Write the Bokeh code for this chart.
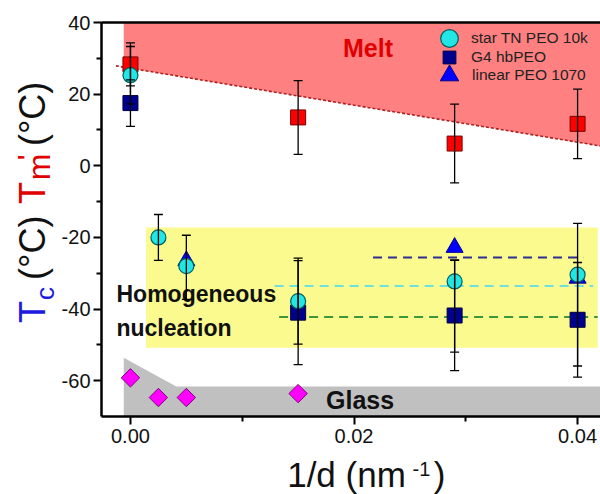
import math
from bokeh.plotting import figure
from bokeh.layouts import row, column
from bokeh.models import (ColumnDataSource, Whisker, TeeHead, Label, Legend, LegendItem,
                          LinearAxis, FixedTicker, Range1d, NumeralTickFormatter)
from bokeh.embed import file_html
from bokeh.resources import INLINE

FONT = "Liberation Sans"

# ---------------- data ----------------
# Tm' (melting) – red squares
melt_x = [0.0, 0.015, 0.029, 0.040]
melt_y = [28.3, 13.5, 6.2, 11.7]
melt_err = [6.0, 10.3, 11.0, 9.7]

# Tc star TN PEO 10k – cyan circles
star_x = [0.0, 0.0025, 0.005, 0.015, 0.029, 0.040]
star_y = [25.3, -20.0, -28.0, -37.8, -32.3, -30.4]
star_err_up = [8.0, 6.4, 8.6, 12.0, 6.0, 14.3]
star_err_dn = [8.0, 6.4, 9.3, 12.0, 19.7, 25.5]

# Tc G4 hbPEO – navy squares
g4_x = [0.0, 0.015, 0.029, 0.040]
g4_y = [17.5, -41.0, -41.8, -43.0]
g4_err = [6.5, 14.5, 15.4, 16.0]

# Tc linear PEO 1070 – blue triangles
lin_x = [0.005, 0.029, 0.040]
lin_y = [-26.5, -22.8, -31.4]

# Glass transition – magenta diamonds
glass_x = [0.0, 0.0025, 0.005, 0.015]
glass_y = [-59.2, -64.7, -64.7, -63.6]

# shaded regions
melt_region_x = [-0.0006, 0.0425, 0.0425, -0.0006]
melt_region_y = [40.0, 40.0, 5.3, 27.5]
melt_line_x = [-0.0013, 0.0425]
melt_line_y = [27.9, 5.3]
glass_region_x = [-0.0006, 0.0041, 0.0425, 0.0425, -0.0006]
glass_region_y = [-53.6, -61.6, -61.6, -70.0, -70.0]
homo_left, homo_right = [0.0014], [0.0418]
homo_bottom, homo_top = [-50.8], [-17.2]

# average Tc lines
lin_avg_x, lin_avg_y = [0.0217, 0.0405], [-25.6, -25.6]
star_avg_x, star_avg_y = [0.0129, 0.0414], [-33.6, -33.6]
g4_avg_x, g4_avg_y = [0.0133, 0.0418], [-42.2, -42.2]

x_ticks = [0.0, 0.02, 0.04]
x_minor = [0.01, 0.03]
y_ticks = [-60, -40, -20, 0, 20, 40]
y_minor = [-50, -30, -10, 10, 30]

BLUE, RED, BLK = "#1C1CE0", "#E00000", "#111111"

# ---------------- main figure ----------------
p = figure(width=542, height=453, output_backend="svg", toolbar_location=None, title=None,
           x_range=Range1d(-0.00259, 0.04205), y_range=Range1d(-70, 40),
           min_border_left=42, min_border_right=0, min_border_top=22, min_border_bottom=37)
p.outline_line_color = None
p.grid.visible = False
p.background_fill_color = "white"

for ax in (p.xaxis[0], p.yaxis[0]):
    ax.axis_line_width = 2.5
    ax.major_tick_line_width = 2
    ax.minor_tick_line_width = 2
    ax.major_tick_out = 8
    ax.major_tick_in = 0
    ax.minor_tick_out = 5
    ax.minor_tick_in = 0
    ax.major_label_text_font = FONT
    ax.major_label_text_font_size = "20px"
    ax.major_label_text_color = BLK
    ax.axis_line_color = "black"
p.xaxis[0].ticker = FixedTicker(ticks=x_ticks, minor_ticks=x_minor)
p.xaxis[0].formatter = NumeralTickFormatter(format="0.00")
p.xaxis[0].major_label_standoff = 4
p.yaxis[0].ticker = FixedTicker(ticks=y_ticks, minor_ticks=y_minor)
p.yaxis[0].major_label_overrides = {v: str(v) for v in y_ticks}
p.yaxis[0].major_label_standoff = 3

top_axis = LinearAxis(ticker=FixedTicker(ticks=[]), axis_line_width=2.5,
                      major_tick_out=0, major_tick_in=0, minor_tick_out=0, minor_tick_in=0,
                      major_label_standoff=0, major_label_text_font_size="0px")
p.add_layout(top_axis, "above")

# regions
p.patch(melt_region_x, melt_region_y, fill_color="#FF8080", line_color=None)
p.line(melt_line_x, melt_line_y, line_color="#B02020", line_width=1.6, line_dash="3 2")
p.patch(glass_region_x, glass_region_y, fill_color="#C0C0C0", line_color=None)
p.quad(left=homo_left, right=homo_right, bottom=homo_bottom, top=homo_top,
       fill_color="#FAFA8E", line_color=None)

# average lines
p.line(lin_avg_x, lin_avg_y, line_color="#2E2E90", line_width=2, line_dash="9 6")
p.line(star_avg_x, star_avg_y, line_color="#6EE0E0", line_width=2, line_dash="9 6")
p.line(g4_avg_x, g4_avg_y, line_color="#3C963C", line_width=2, line_dash="9 6")

# markers
r_melt = p.scatter(melt_x, melt_y, marker="square", size=15, fill_color="#FF0000", line_color="#7A0000", line_width=1)
r_g4 = p.scatter(g4_x, g4_y, marker="square", size=15, fill_color="#000090", line_color="#000040", line_width=1)
r_lin = p.scatter(lin_x, lin_y, marker="triangle", size=17, fill_color="#0000FF", line_color="#00008B", line_width=1)
r_star = p.scatter(star_x, star_y, marker="circle", size=15, fill_color="#22E5E5", line_color="#005F5F", line_width=1.2)
r_glass = p.scatter(glass_x, glass_y, marker="square", angle=math.pi / 4, size=13,
                    fill_color="#FF00FF", line_color="#800080", line_width=1)

# error bars
def add_err(xs, ys, up, dn):
    src = ColumnDataSource(dict(x=xs, upper=[y + u for y, u in zip(ys, up)],
                                lower=[y - d for y, d in zip(ys, dn)]))
    w = Whisker(source=src, base="x", upper="upper", lower="lower", dimension="height",
                line_color="black", line_width=1.3, level="overlay",
                upper_head=TeeHead(size=9, line_width=1.3, line_color="black"),
                lower_head=TeeHead(size=9, line_width=1.3, line_color="black"))
    p.add_layout(w)

add_err(melt_x, melt_y, melt_err, melt_err)
add_err(g4_x, g4_y, g4_err, g4_err)
add_err(star_x, star_y, star_err_up, star_err_dn)

# legend: one single-row legend per entry so rows can sit close together
legend_rows = [("star TN PEO 10k", r_star, 44, 38),
               ("G4 hbPEO", r_g4, 32, 57),
               ("linear PEO 1070", r_lin, 46, 75)]
for lab, rend, g, cy in legend_rows:
    lg = Legend(items=[LegendItem(label=lab, renderers=[rend])],
                location=(448 - g // 2 - 100, 416 - (cy + g // 2)),
                padding=0, margin=0, spacing=0,
                glyph_width=g, glyph_height=g, label_standoff=max(0, 22 - g // 2),
                label_text_font=FONT, label_text_font_size="15.5px", label_text_color="#222222",
                background_fill_alpha=0, border_line_alpha=0)
    p.add_layout(lg)

# region texts
p.add_layout(Label(x=0.02125, y=28.9, text="Melt", text_align="center", text_font=FONT,
                   text_font_size="25px", text_font_style="bold", text_color=RED))
p.add_layout(Label(x=-0.00125, y=-39.5, text="Homogeneous", text_font=FONT,
                   text_font_size="23px", text_font_style="bold", text_color=BLK))
p.add_layout(Label(x=-0.00125, y=-49.0, text="nucleation", text_font=FONT,
                   text_font_size="23px", text_font_style="bold", text_color=BLK))
p.add_layout(Label(x=0.0175, y=-69.3, text="Glass", text_font=FONT,
                   text_font_size="25px", text_font_style="bold", text_color=BLK))

# ---------------- axis-title strips ----------------
def strip(w, h):
    f = figure(width=w, height=h, output_backend="svg", toolbar_location=None, title=None,
               x_range=Range1d(0, w), y_range=Range1d(0, h), x_axis_type=None, y_axis_type=None,
               min_border=0, min_border_left=0, min_border_right=0, min_border_top=0, min_border_bottom=0)
    f.outline_line_color = None
    f.grid.visible = False
    return f

def piece(f, x, y, text, size, color, angle=0.0):
    f.add_layout(Label(x=x, y=y, text=text, angle=angle, text_align="center",
                       text_baseline="middle", text_font=FONT, text_font_size=size,
                       text_color=color))

ylab = strip(58, 453)
A = math.pi / 2
piece(ylab, 32, 120, "T", "36px", BLUE, A)
piece(ylab, 44, 141.5, "c", "26px", BLUE, A)
piece(ylab, 32, 194, "(°C)", "36px", BLK, A)
piece(ylab, 32, 257, "T", "36px", RED, A)
piece(ylab, 38.5, 287, "m", "32px", RED, A)
piece(ylab, 27, 298, "'", "30px", RED, A)
piece(ylab, 32, 348, "(°C)", "36px", BLK, A)

xlab = strip(600, 41)
piece(xlab, 346, 20.5, "1/d (nm", "35px", BLK)
piece(xlab, 421, 26, "-1", "20px", BLK)
piece(xlab, 439, 20.5, ")", "35px", BLK)

layout = column(row(ylab, p, spacing=0), xlab, spacing=0)
open("out.html", "w").write(file_html(layout, INLINE))
